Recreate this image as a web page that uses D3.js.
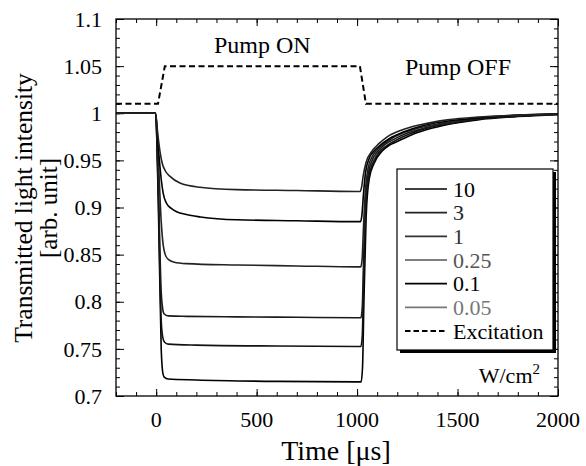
<!DOCTYPE html>
<html>
<head>
<meta charset="utf-8">
<script src="https://cdn.jsdelivr.net/npm/d3@7"></script>
<style>
  body { margin: 0; background: #fff; }
  text { font-family: 'Liberation Serif', 'DejaVu Serif', serif; }
</style>
</head>
<body>
<svg id="chart" width="586" height="466"></svg>
<script>
// curves: [time us, transmitted intensity]
const curve10 = [[-200,1],[-3,1],[10,0.91],[25,0.75],[32,0.726],[40,0.72],[60,0.718],[200,0.717],[600,0.7155],[1000,0.715],[1020,0.715],[1027,0.73],[1034,0.8],[1045,0.89],[1060,0.93],[1085,0.947],[1125,0.96],[1160,0.966],[1200,0.97],[1270,0.977],[1370,0.984],[1500,0.99],[1600,0.993],[1800,0.9965],[2000,0.9985]];
const curve3 = [[-200,1],[-3,1],[10,0.92],[25,0.78],[33,0.762],[42,0.757],[60,0.755],[200,0.754],[600,0.753],[1000,0.7525],[1019,0.7525],[1026,0.765],[1033,0.83],[1043,0.9],[1057,0.932],[1080,0.948],[1115,0.96],[1150,0.966],[1190,0.971],[1260,0.978],[1360,0.985],[1490,0.99],[1600,0.994],[1800,0.997],[2000,0.999]];
const curve1 = [[-200,1],[-3,1],[10,0.93],[25,0.81],[32,0.793],[40,0.787],[60,0.785],[150,0.7845],[400,0.784],[700,0.7835],[1000,0.783],[1019,0.783],[1026,0.795],[1033,0.85],[1042,0.905],[1055,0.935],[1075,0.95],[1105,0.96],[1140,0.967],[1180,0.972],[1250,0.979],[1350,0.985],[1480,0.991],[1600,0.994],[1800,0.997],[2000,0.999]];
const curve025 = [[-200,1],[-3,1],[10,0.955],[25,0.885],[35,0.86],[45,0.85],[60,0.845],[90,0.842],[150,0.8405],[400,0.839],[700,0.838],[1000,0.837],[1018,0.837],[1025,0.845],[1032,0.88],[1042,0.92],[1055,0.942],[1075,0.954],[1095,0.96],[1130,0.967],[1170,0.973],[1240,0.98],[1340,0.986],[1470,0.991],[1600,0.995],[1800,0.9975],[2000,0.999]];
const curve01 = [[-200,1],[-3,1],[10,0.965],[25,0.93],[35,0.915],[50,0.905],[75,0.899],[102,0.8955],[150,0.8925],[220,0.89],[400,0.887],[700,0.886],[1000,0.885],[1017,0.885],[1024,0.892],[1032,0.915],[1042,0.937],[1060,0.952],[1085,0.96],[1120,0.967],[1160,0.973],[1230,0.98],[1330,0.987],[1460,0.992],[1600,0.995],[1800,0.998],[2000,0.9995]];
const curve005 = [[-200,1],[-3,1],[8,0.978],[20,0.958],[30,0.947],[45,0.939],[69,0.933],[118,0.926],[218,0.9215],[400,0.919],[700,0.918],[1000,0.917],[1015,0.917],[1022,0.921],[1030,0.933],[1045,0.948],[1075,0.96],[1110,0.968],[1150,0.975],[1220,0.982],[1320,0.988],[1450,0.993],[1600,0.996],[1800,0.998],[2000,0.9995]];
const excitation = [[-200,1.01],[9,1.01],[43,1.05],[1014,1.05],[1044,1.01],[2000,1.01]];

const seriesLabels = ["10", "3", "1", "0.25", "0.1", "0.05"];
const lineColors = ["#000", "#111", "#1a1a1a", "#222", "#000", "#222"];
const legendColors = ["#000", "#222", "#333", "#555", "#000", "#777"];
const seriesData = [curve10, curve3, curve1, curve025, curve01, curve005];

const xTicks = [0, 500, 1000, 1500, 2000];
const yTicks = [0.7, 0.75, 0.8, 0.85, 0.9, 0.95, 1, 1.05, 1.1];

const serif = "'Liberation Serif', 'DejaVu Serif', serif";
const svg = d3.select("#chart").attr("font-family", serif);
const m = { left: 116, right: 558, top: 19, bottom: 396 };

const x = d3.scaleLinear().domain([-200, 2000]).range([m.left, m.right]);
const y = d3.scaleLinear().domain([0.7, 1.1]).range([m.bottom, m.top]);

const xMinor = d3.range(-200, 2001, 100);
const yMinor = d3.range(70, 111, 1).map(d => d / 100);

// inward ticks on all four sides
function tickAxis(axis, scale, values, size, transform) {
  svg.append("g").attr("transform", transform)
    .call(axis(scale).tickValues(values).tickSize(-size).tickFormat(""))
    .call(g => g.select(".domain").remove())
    .call(g => g.selectAll("line").attr("stroke", "#000").attr("stroke-width", 1));
}
tickAxis(d3.axisBottom, x, xMinor, 4, `translate(0,${m.bottom})`);
tickAxis(d3.axisBottom, x, xTicks, 7, `translate(0,${m.bottom})`);
tickAxis(d3.axisTop, x, xMinor, 4, `translate(0,${m.top})`);
tickAxis(d3.axisTop, x, xTicks, 7, `translate(0,${m.top})`);
tickAxis(d3.axisLeft, y, yMinor, 4, `translate(${m.left},0)`);
tickAxis(d3.axisLeft, y, yTicks, 8, `translate(${m.left},0)`);
tickAxis(d3.axisRight, y, yMinor, 4, `translate(${m.right},0)`);
tickAxis(d3.axisRight, y, yTicks, 8, `translate(${m.right},0)`);

svg.append("g").selectAll("text").data(xTicks).join("text")
  .attr("x", d => x(d)).attr("y", 427).attr("font-family", serif)
  .attr("text-anchor", "middle").style("font-size", "22px").text(d => d);

svg.append("g").selectAll("text").data(yTicks).join("text")
  .attr("x", 102).attr("y", d => y(d)).attr("dy", "0.35em").attr("font-family", serif)
  .attr("text-anchor", "end").style("font-size", "22px").text(d => d);

svg.append("text").attr("x", 336).attr("y", 460).attr("font-family", serif)
  .attr("text-anchor", "middle").style("font-size", "28px").text("Time [\u03bcs]");

svg.append("text").attr("transform", "translate(32,208) rotate(-90)").attr("font-family", serif)
  .attr("text-anchor", "middle").style("font-size", "25.5px").text("Transmitted light intensity");
svg.append("text").attr("transform", "translate(57,208) rotate(-90)").attr("font-family", serif)
  .attr("text-anchor", "middle").style("font-size", "25px").text("[arb. unit]");

const line = d3.line().x(d => x(d[0])).y(d => y(d[1])).curve(d3.curveMonotoneX);

svg.append("g").selectAll("path").data(seriesData).join("path")
  .attr("d", line).attr("fill", "none")
  .attr("stroke", (d, i) => lineColors[i]).attr("stroke-width", 1.6);

svg.append("path").datum(excitation)
  .attr("d", d3.line().x(d => x(d[0])).y(d => y(d[1])))
  .attr("fill", "none").attr("stroke", "#000").attr("stroke-width", 2)
  .attr("stroke-dasharray", "6,3.5");

svg.append("rect").attr("x", m.left).attr("y", m.top)
  .attr("width", m.right - m.left).attr("height", m.bottom - m.top)
  .attr("fill", "none").attr("stroke", "#000").attr("stroke-width", 1.3);

svg.append("text").attr("x", 214).attr("y", 53).attr("font-family", serif)
  .style("font-size", "24px").text("Pump ON");
svg.append("text").attr("x", 405).attr("y", 75).attr("font-family", serif)
  .style("font-size", "24px").text("Pump OFF");

const unit = svg.append("text").attr("x", 540).attr("y", 383).attr("font-family", serif)
  .attr("text-anchor", "end").style("font-size", "22px");
unit.append("tspan").text("W/cm");
unit.append("tspan").attr("dy", -9).style("font-size", "15px").text("2");

// legend box with drop shadow
const lg = { x: 397, y: 169, w: 156, h: 181 };
svg.append("rect").attr("x", lg.x + 3).attr("y", lg.y + 3).attr("width", lg.w).attr("height", lg.h).attr("fill", "#000");
svg.append("rect").attr("x", lg.x).attr("y", lg.y).attr("width", lg.w).attr("height", lg.h)
  .attr("fill", "#fff").attr("stroke", "#000").attr("stroke-width", 1.2);

const legendItems = seriesLabels.concat(["Excitation"]);
const ly = d3.scalePoint().domain(legendItems).range([189, 331]);
const rows = svg.append("g").selectAll("g").data(legendItems).join("g")
  .attr("transform", d => `translate(0,${ly(d)})`);
rows.append("line").attr("x1", 405).attr("x2", 447)
  .attr("stroke", (d, i) => i < 6 ? legendColors[i] : "#000")
  .attr("stroke-width", (d, i) => i < 6 ? 1.6 : 2)
  .attr("stroke-dasharray", (d, i) => i < 6 ? null : "5.5,3");
rows.append("text").attr("x", 453).attr("dy", "0.35em").attr("font-family", serif)
  .style("font-size", "22px")
  .attr("fill", (d, i) => i < 6 ? legendColors[i] : "#000")
  .text(d => d);
</script>
</body>
</html>
